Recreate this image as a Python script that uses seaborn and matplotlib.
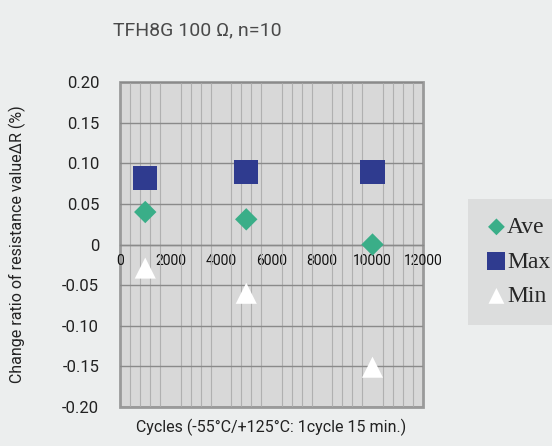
import matplotlib
matplotlib.use("Agg")
import matplotlib.pyplot as plt
from matplotlib.ticker import MultipleLocator, FixedLocator
import seaborn as sns
import pandas as pd

# data
cycles = [1000, 5000, 10000]
ave_vals = [0.04, 0.031, 0.0]
max_vals = [0.082, 0.089, 0.089]
min_vals = [-0.029, -0.06, -0.151]
series_names = ["Ave", "Max", "Min"]
y_ticks = [0.20, 0.15, 0.10, 0.05, 0.0, -0.05, -0.10, -0.15, -0.20]
y_tick_labels = ["0.20", "0.15", "0.10", "0.05", "0", "-0.05", "-0.10", "-0.15", "-0.20"]
x_ticks = [0, 2000, 4000, 6000, 8000, 10000, 12000]

df = pd.DataFrame({
    "cycles": cycles * 3,
    "value": ave_vals + max_vals + min_vals,
    "stat": [s for s in series_names for _ in cycles],
})

sns.set_style("white")
plt.rcParams["font.family"] = ["Roboto", "DejaVu Sans"]

bg = "#eceeee"
fig = plt.figure(figsize=(5.52, 4.46), dpi=100, facecolor=bg)
ax = fig.add_axes([0.2174, 0.0874, 0.5489, 0.7287])
ax.set_facecolor("#d8d8d8")

palette = {"Ave": "#3aae88", "Max": "#2f3b8f", "Min": "#ffffff"}
markers = {"Ave": "D", "Max": "s", "Min": "^"}
sizes = {"Ave": 130, "Max": 300, "Min": 230}
for name in series_names:
    sub = df[df["stat"] == name]
    sns.scatterplot(data=sub, x="cycles", y="value", ax=ax, color=palette[name],
                    marker=markers[name], s=sizes[name], edgecolor="none",
                    label=name, zorder=3)

ax.set_xlim(0, 12000)
ax.set_ylim(-0.20, 0.20)
ax.yaxis.set_major_locator(FixedLocator(y_ticks))
ax.set_yticklabels(y_tick_labels)
ax.xaxis.set_major_locator(FixedLocator(x_ticks))
ax.set_xticklabels([str(v) for v in x_ticks], fontfamily="Liberation Serif",
                   fontweight="bold", fontsize=7.5)
ax.xaxis.set_minor_locator(MultipleLocator(400))

ax.grid(True, which="minor", axis="x", color="#b0b0b0", linewidth=0.8)
ax.grid(True, which="major", axis="y", color="#8a8a8a", linewidth=1.0)
ax.set_axisbelow(True)

for side in ["top", "right", "left"]:
    ax.spines[side].set_visible(False)
ax.spines["bottom"].set_position(("data", 0))
ax.spines["bottom"].set_color("#8a8a8a")
ax.spines["bottom"].set_linewidth(1.0)
ax.patch.set_edgecolor("#9a9a9a")
ax.patch.set_linewidth(2.0)

ax.tick_params(axis="x", which="both", length=0, pad=7, colors="#111111")
ax.tick_params(axis="y", length=0, pad=15, labelsize=12, colors="#222222")

ax.set_xlabel("Cycles (-55°C/+125°C: 1cycle 15 min.)", fontsize=11.5, color="#222222")
ax.xaxis.set_label_coords(0.5, -0.035)
ax.set_ylabel("Change ratio of resistance value\u0394R (%)", fontsize=11.5, color="#222222")
ax.yaxis.set_label_coords(-0.31, 0.5)

fig.text(0.205, 0.92, "TFH8G 100 \u03a9, n=10", fontsize=14, color="#4a4a4a")

ax.get_legend().remove()
handles, labels = ax.get_legend_handles_labels()
leg = fig.legend(handles, labels, loc="center left", bbox_to_anchor=(0.848, 0.413),
                 frameon=True, fancybox=False, facecolor="#d9d9d9", edgecolor="none",
                 prop={"family": "Liberation Serif", "size": 17}, handletextpad=0.0,
                 labelspacing=0.55, borderpad=0.75, borderaxespad=0.0,
                 handlelength=0.9, markerscale=0.75)

fig.savefig("out.png", dpi=100, facecolor=bg)
